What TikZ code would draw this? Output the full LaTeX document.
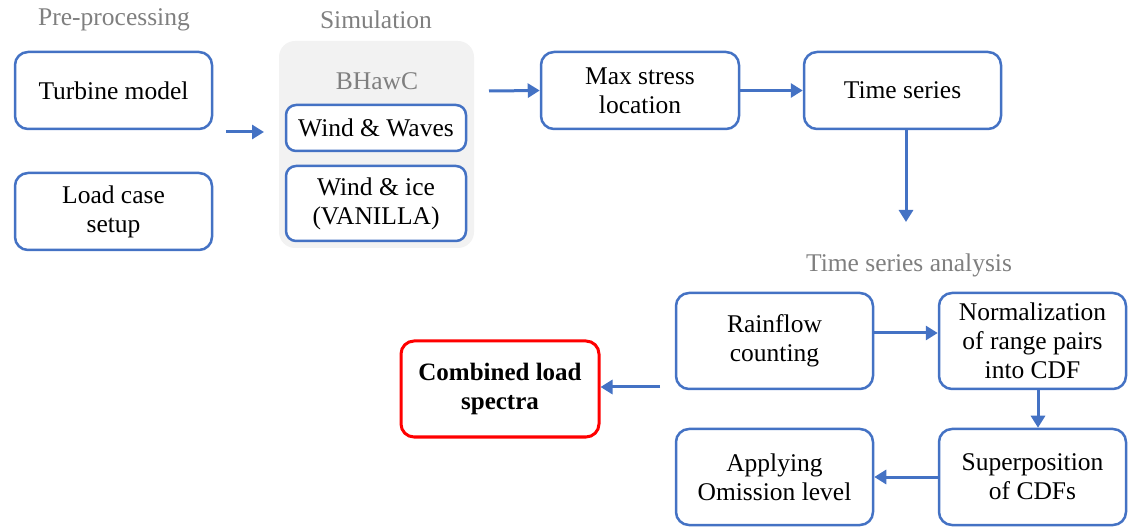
\documentclass[tikz,border=0pt]{standalone}
\usepackage{fontspec}
\setmainfont{Liberation Serif}
\usetikzlibrary{arrows.meta}
\definecolor{bblue}{HTML}{4472C4}
\definecolor{lgray}{HTML}{F2F2F2}
\definecolor{tgray}{HTML}{7F7F7F}
\definecolor{bred}{HTML}{FF0000}
\begin{document}
\begin{tikzpicture}[x=1pt,y=-1pt,
  box/.style={draw=bblue, line width=2.5pt, rounded corners=13pt, fill=white, align=center,
    font=\fontsize{25.5}{29}\selectfont, inner sep=0pt},
  redbox/.style={box, draw=bred, line width=3pt, font=\fontsize{25}{29}\selectfont\bfseries},
  glabel/.style={text=tgray, font=\fontsize{25.5}{29}\selectfont, inner sep=0pt},
  arr/.style={draw=bblue, line width=3pt, -{Triangle[width=14pt,length=12pt]}},
  bg/.style={fill=lgray, draw=none, rounded corners=16pt}]
\useasboundingbox (0,0) rectangle (1128,529);
% labels
\node[glabel] (lpre) at (114,20) {Pre-processing};
\node[glabel] (lsim) at (376,20) {Simulation};
\node[glabel] (ltsa) at (909,265) {Time series analysis};
% simulation background
\node[bg, minimum width=195pt, minimum height=207pt, inner sep=0pt] (simbg) at (376.5,144.5) {};
\node[glabel] (bhawc) at (377,81) {BHawC};
% boxes
\node[box, minimum width=197pt, minimum height=77pt] (turb) at (113.5,90.5) {Turbine model};
\node[box, minimum width=197pt, minimum height=77pt] (lcs) at (113.5,211.5) {Load case\\setup};
\node[box, minimum width=180pt, minimum height=46pt, rounded corners=10pt] (ww) at (376,128) {Wind \& Waves};
\node[box, minimum width=180pt, minimum height=75pt, rounded corners=10pt] (wi) at (376,203.5) {Wind \& ice\\(VANILLA)};
\node[box, minimum width=198pt, minimum height=77pt] (maxs) at (640,90.5) {Max stress\\location};
\node[box, minimum width=197pt, minimum height=77pt] (ts) at (902.5,90.5) {Time series};
\node[box, minimum width=197pt, minimum height=96pt] (rain) at (774.5,341) {Rainflow\\counting};
\node[box, minimum width=187pt, minimum height=96pt] (norm) at (1032.5,341) {Normalization\\of range pairs\\into CDF};
\node[box, minimum width=187pt, minimum height=96pt] (sup) at (1032.5,477) {Superposition\\of CDFs};
\node[box, minimum width=197pt, minimum height=96pt] (apply) at (774.5,477) {Applying\\Omission level};
\node[redbox, minimum width=198pt, minimum height=96pt] (comb) at (500,389) {Combined load\\spectra};
% free arrow ends
\coordinate (a1s) at (226,132);
\coordinate (a1e) at (264,132);
\coordinate (a2s) at (489,91);
\coordinate (a3e) at (906,222);
\coordinate (a4s) at (660,387);
% arrows
\draw[arr] (a1s) -- (a1e);
\draw[arr] (a2s) -- (maxs.west);
\draw[arr] (maxs.east) -- (ts.west);
\draw[arr] (ts.south -| a3e) -- (a3e);
\draw[arr] ([yshift=8pt]rain.east) -- ([yshift=8pt]norm.west);
\draw[arr] ([xshift=5.5pt]norm.south) -- ([xshift=5.5pt]sup.north);
\draw[arr] (sup.west) -- (apply.east);
\draw[arr] (a4s) -- (comb.east |- a4s);
\end{tikzpicture}
\end{document}
